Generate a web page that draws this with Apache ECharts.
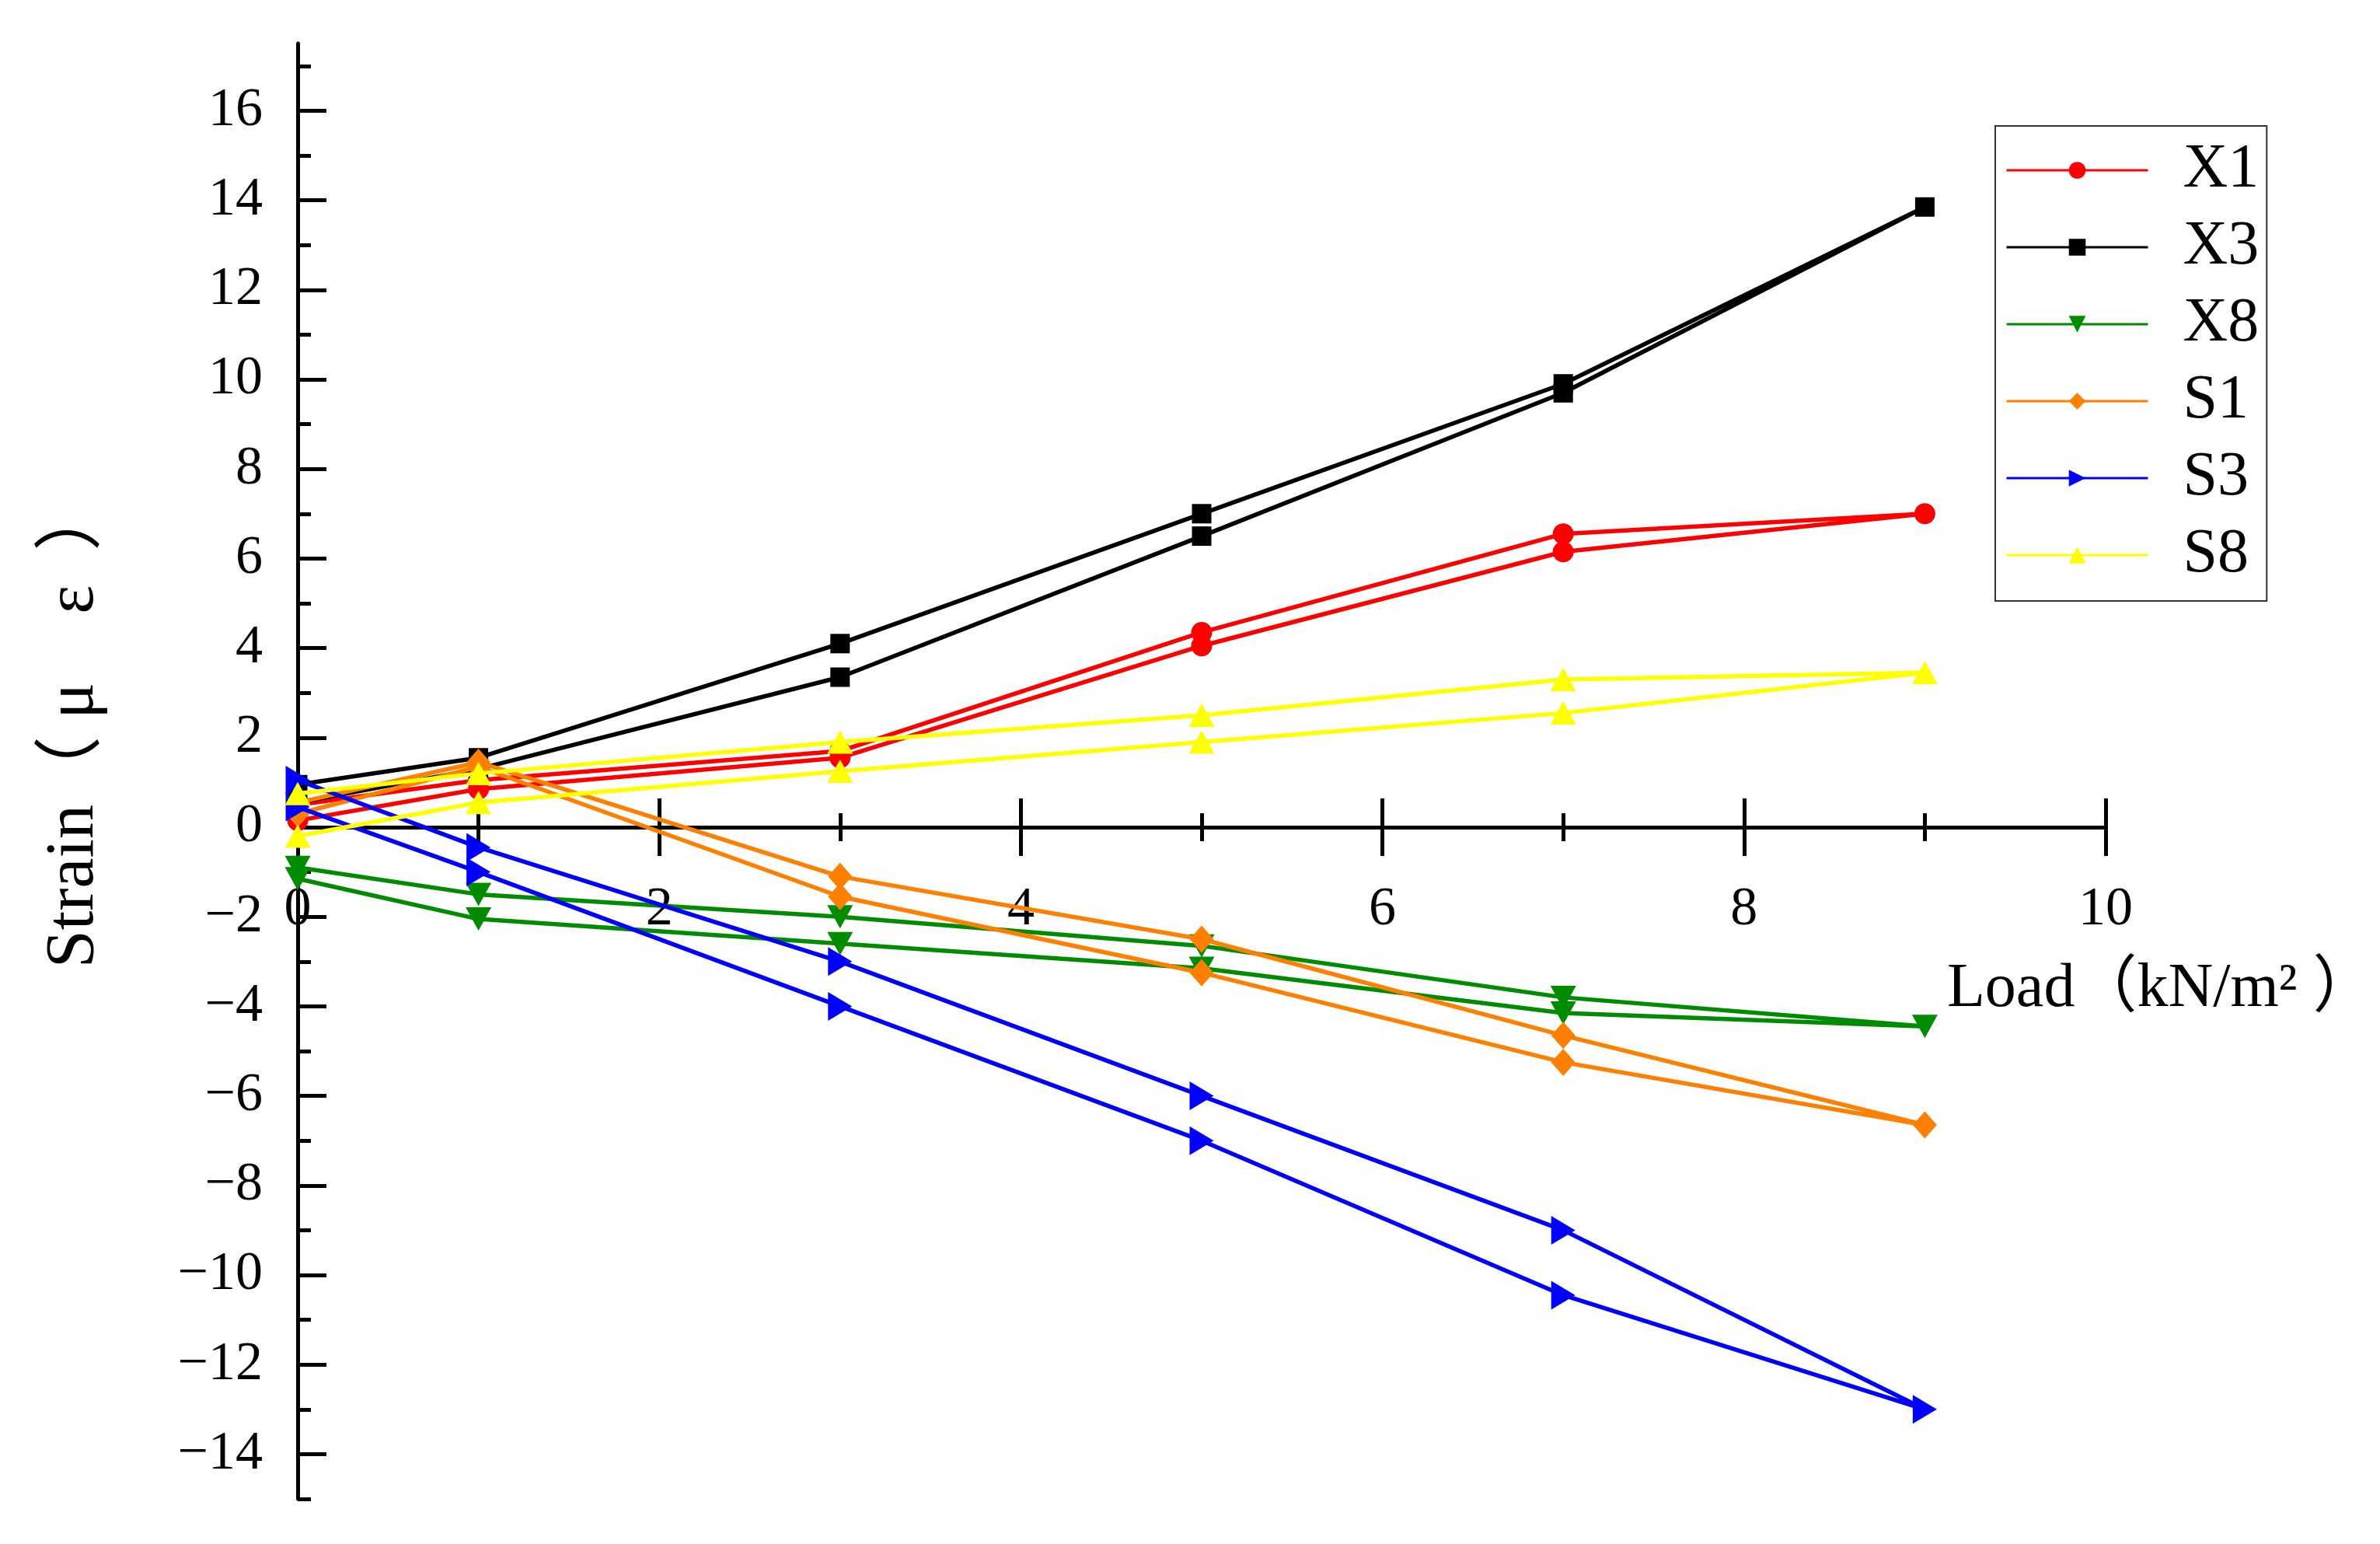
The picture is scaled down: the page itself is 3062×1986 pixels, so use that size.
<!DOCTYPE html>
<html>
<head>
<meta charset="utf-8">
<script src="https://cdn.jsdelivr.net/npm/echarts@6/dist/echarts.min.js"></script>
<style>
html,body{margin:0;padding:0;background:#fff;}
#chart{width:3062px;height:1986px;}
</style>
</head>
<body>
<div id="chart"></div>
<script>
// Load steps: loading 0→9 then unloading 9→0 (kN/m²)
const loads = [0, 1, 3, 5, 7, 9, 7, 5, 3, 1, 0];
// Strain readings (με) in the same order as loads
const strainX1 = [0.5, 1.05, 1.7, 4.35, 6.55, 7.0, 6.15, 4.05, 1.55, 0.85, 0.15];
const strainX3 = [0.95, 1.55, 4.1, 7.0, 9.9, 13.85, 9.7, 6.5, 3.35, 1.3, 0.55];
const strainX8 = [-0.9, -1.5, -2.0, -2.65, -3.8, -4.45, -4.15, -3.15, -2.6, -2.05, -1.15];
const strainS1 = [0.55, 1.45, -1.1, -2.5, -4.65, -6.65, -5.25, -3.25, -1.55, 1.35, 0.3];
const strainS3 = [1.05, -0.45, -3.0, -6.0, -9.0, -13.0, -10.45, -7.0, -4.0, -1.0, 0.45];
const strainS8 = [0.75, 1.2, 1.9, 2.5, 3.3, 3.45, 2.55, 1.9, 1.25, 0.55, -0.2];
const seriesNames = ['X1', 'X3', 'X8', 'S1', 'S3', 'S8'];
// Tick values
const yMajorTicks = [-14, -12, -10, -8, -6, -4, -2, 0, 2, 4, 6, 8, 10, 12, 14, 16];
const yMinorTicks = [-15, -13, -11, -9, -7, -5, -3, -1, 1, 3, 5, 7, 9, 11, 13, 15, 17];

const FONT = "'Liberation Serif', 'Noto Sans CJK SC', serif";
const strains = [strainX1, strainX3, strainX8, strainS1, strainS3, strainS8];
const colors = ['#ff0000', '#000000', '#008c00', '#ff8000', '#0000ff', '#ffff00'];
const symbols = ['circle', 'rect', 'triangle', 'diamond', 'triangle', 'triangle'];
const symRot = [0, 0, 180, 0, -90, 0];
const symSize = [27, 25, [33, 30], [31, 35], [37, 31], [33, 30]];

// grid geometry
const GRID = {left: 383, right: 353, top: 56, bottom: 58};
const Y_MIN = -15, Y_MAX = 17.5;
const plotH = 1986 - GRID.top - GRID.bottom;
// offset that lifts the label-only x axis from the grid bottom up to the y = 0 line
const zeroOffset = -plotH * (0 - Y_MIN) / (Y_MAX - Y_MIN);

const chart = echarts.init(document.getElementById('chart'), null, {renderer: 'canvas'});

const series = seriesNames.map((name, k) => ({
  name: name,
  type: 'line',
  xAxisIndex: 0,
  yAxisIndex: 0,
  data: loads.map((x, i) => [x, strains[k][i]]),
  symbol: symbols[k],
  symbolRotate: symRot[k],
  symbolSize: symSize[k],
  showAllSymbol: true,
  color: colors[k],
  lineStyle: {color: colors[k], width: 5.5},
  itemStyle: {color: colors[k]},
  z: 3 + k
}));

const axisLineStyle = {color: '#000', width: 5};

chart.setOption({
  animation: false,
  backgroundColor: '#fff',
  grid: Object.assign({containLabel: false, outerBoundsMode: 'none'}, GRID),
  legend: {
    data: seriesNames,
    orient: 'vertical',
    left: 2567,
    top: 162,
    padding: [17, 10, 19, 13],
    itemWidth: 182,
    itemHeight: 27,
    itemGap: 19,
    borderColor: '#333',
    borderWidth: 2,
    lineStyle: {width: 3},
    textStyle: {fontSize: 80, lineHeight: 80, fontFamily: FONT, color: '#000', padding: [0, 0, 0, 40]}
  },
  xAxis: [
    {
      type: 'value', position: 'bottom', min: 0, max: 10, interval: 2,
      axisLine: {show: true, onZero: true, lineStyle: axisLineStyle},
      axisTick: {show: true, inside: false, length: 37, lineStyle: {color: '#000', width: 5}},
      minorTick: {show: true, splitNumber: 2, length: 18, lineStyle: {color: '#000', width: 5}},
      axisLabel: {show: false},
      splitLine: {show: false}
    },
    {
      type: 'value', position: 'bottom', min: 0, max: 10, interval: 2,
      axisLine: {show: false, onZero: true},
      axisTick: {show: true, inside: true, length: 37, lineStyle: {color: '#000', width: 5}},
      minorTick: {show: true, splitNumber: 2, length: 18, lineStyle: {color: '#000', width: 5}},
      axisLabel: {show: false},
      splitLine: {show: false},
      name: 'Load（kN/m² ）',
      nameLocation: 'end',
      nameGap: -204,
      nameTextStyle: {fontSize: 80, lineHeight: 80, fontFamily: FONT, color: '#000', align: 'left', verticalAlign: 'top', padding: [169, 0, 0, 0]}
    },
    {
      type: 'value', position: 'bottom', min: 0, max: 10, interval: 2,
      offset: zeroOffset,
      axisLine: {show: false, onZero: false},
      axisTick: {show: false},
      axisLabel: {show: true, margin: 72, fontSize: 70, fontFamily: FONT, color: '#000'},
      splitLine: {show: false}
    }
  ],
  yAxis: [
    {
      type: 'value', position: 'left', min: Y_MIN, max: Y_MAX,
      axisLine: {show: true, onZero: false, lineStyle: axisLineStyle},
      axisTick: {show: true, inside: true, length: 17, customValues: yMinorTicks, lineStyle: {color: '#000', width: 5}},
      axisLabel: {
        show: true, margin: 45, fontSize: 70, fontFamily: FONT, color: '#000',
        customValues: yMajorTicks,
        formatter: v => String(v).replace('-', '−')
      },
      splitLine: {show: false},
      name: 'Strain（ μ    ε  ）',
      nameLocation: 'middle',
      nameGap: 243,
      nameTextStyle: {fontSize: 88, fontFamily: FONT, color: '#000', padding: [0, 0, 0, 118]}
    },
    {
      type: 'value', position: 'left', min: Y_MIN, max: Y_MAX,
      axisLine: {show: false, onZero: false},
      axisTick: {show: true, inside: true, length: 37, customValues: yMajorTicks, lineStyle: {color: '#000', width: 5}},
      axisLabel: {show: false},
      splitLine: {show: false}
    }
  ],
  series: series
});
</script>
</body>
</html>
